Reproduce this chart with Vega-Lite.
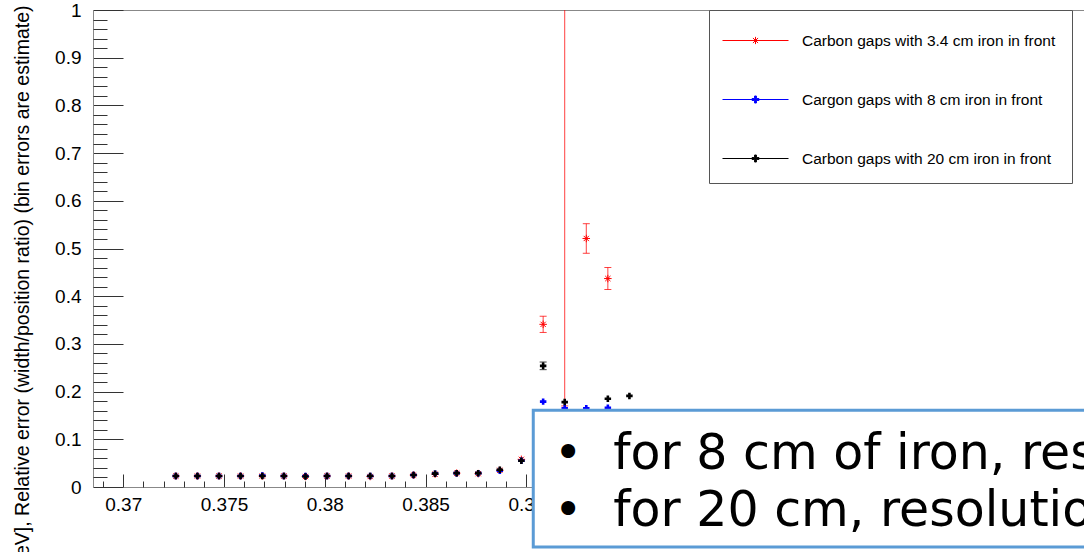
{
  "$schema": "https://vega.github.io/schema/vega-lite/v6.json",
  "autosize": "none",
  "padding": {"left": 93, "top": 10, "right": 0, "bottom": 65},
  "width": 991,
  "height": 477,
  "background": "white",
  "config": {
    "view": {"stroke": null},
    "font": "Liberation Sans",
    "legend": {
      "orient": "none",
      "legendX": 616,
      "legendY": 0,
      "strokeColor": "#555",
      "fillColor": "white",
      "padding": 16,
      "symbolSize": 784,
      "symbolStrokeWidth": 1,
      "symbolOpacity": 1,
      "labelOffset": 48,
      "labelFont": "Liberation Sans",
      "labelFontSize": 15.5,
      "labelColor": "#000",
      "labelLimit": 400,
      "rowPadding": 36,
      "title": null
    }
  },
  "data": {
    "values": [
      {"series": "Carbon gaps with 3.4 cm iron in front", "x": 0.37261, "v": 0.023},
      {"series": "Carbon gaps with 3.4 cm iron in front", "x": 0.37368, "v": 0.023},
      {"series": "Carbon gaps with 3.4 cm iron in front", "x": 0.37475, "v": 0.023},
      {"series": "Carbon gaps with 3.4 cm iron in front", "x": 0.37582, "v": 0.023},
      {"series": "Carbon gaps with 3.4 cm iron in front", "x": 0.3769, "v": 0.023},
      {"series": "Carbon gaps with 3.4 cm iron in front", "x": 0.37797, "v": 0.023},
      {"series": "Carbon gaps with 3.4 cm iron in front", "x": 0.37904, "v": 0.022},
      {"series": "Carbon gaps with 3.4 cm iron in front", "x": 0.38011, "v": 0.023},
      {"series": "Carbon gaps with 3.4 cm iron in front", "x": 0.38118, "v": 0.023},
      {"series": "Carbon gaps with 3.4 cm iron in front", "x": 0.38225, "v": 0.022},
      {"series": "Carbon gaps with 3.4 cm iron in front", "x": 0.38333, "v": 0.023},
      {"series": "Carbon gaps with 3.4 cm iron in front", "x": 0.3844, "v": 0.025},
      {"series": "Carbon gaps with 3.4 cm iron in front", "x": 0.38547, "v": 0.027},
      {"series": "Carbon gaps with 3.4 cm iron in front", "x": 0.38654, "v": 0.029},
      {"series": "Carbon gaps with 3.4 cm iron in front", "x": 0.38761, "v": 0.028},
      {"series": "Carbon gaps with 3.4 cm iron in front", "x": 0.38868, "v": 0.035},
      {"series": "Carbon gaps with 3.4 cm iron in front", "x": 0.38975, "v": 0.058},
      {"series": "Carbon gaps with 3.4 cm iron in front", "x": 0.39083, "v": 0.341, "lo": 0.324, "hi": 0.358},
      {"series": "Carbon gaps with 3.4 cm iron in front", "x": 0.3919, "v": 1.5, "lo": 0.17, "hi": 2.8},
      {"series": "Carbon gaps with 3.4 cm iron in front", "x": 0.39297, "v": 0.521, "lo": 0.49, "hi": 0.552},
      {"series": "Carbon gaps with 3.4 cm iron in front", "x": 0.39404, "v": 0.437, "lo": 0.414, "hi": 0.46},
      {"series": "Cargon gaps with 8 cm iron in front", "x": 0.37261, "v": 0.023},
      {"series": "Cargon gaps with 8 cm iron in front", "x": 0.37368, "v": 0.023},
      {"series": "Cargon gaps with 8 cm iron in front", "x": 0.37475, "v": 0.023},
      {"series": "Cargon gaps with 8 cm iron in front", "x": 0.37582, "v": 0.023},
      {"series": "Cargon gaps with 8 cm iron in front", "x": 0.3769, "v": 0.024},
      {"series": "Cargon gaps with 8 cm iron in front", "x": 0.37797, "v": 0.023},
      {"series": "Cargon gaps with 8 cm iron in front", "x": 0.37904, "v": 0.023},
      {"series": "Cargon gaps with 8 cm iron in front", "x": 0.38011, "v": 0.023},
      {"series": "Cargon gaps with 8 cm iron in front", "x": 0.38118, "v": 0.023},
      {"series": "Cargon gaps with 8 cm iron in front", "x": 0.38225, "v": 0.023},
      {"series": "Cargon gaps with 8 cm iron in front", "x": 0.38333, "v": 0.023},
      {"series": "Cargon gaps with 8 cm iron in front", "x": 0.3844, "v": 0.025},
      {"series": "Cargon gaps with 8 cm iron in front", "x": 0.38547, "v": 0.028},
      {"series": "Cargon gaps with 8 cm iron in front", "x": 0.38654, "v": 0.029},
      {"series": "Cargon gaps with 8 cm iron in front", "x": 0.38761, "v": 0.029},
      {"series": "Cargon gaps with 8 cm iron in front", "x": 0.38868, "v": 0.034},
      {"series": "Cargon gaps with 8 cm iron in front", "x": 0.38975, "v": 0.055},
      {"series": "Cargon gaps with 8 cm iron in front", "x": 0.39083, "v": 0.179},
      {"series": "Cargon gaps with 8 cm iron in front", "x": 0.3919, "v": 0.165},
      {"series": "Cargon gaps with 8 cm iron in front", "x": 0.39297, "v": 0.165},
      {"series": "Cargon gaps with 8 cm iron in front", "x": 0.39404, "v": 0.166},
      {"series": "Carbon gaps with 20 cm iron in front", "x": 0.37261, "v": 0.023},
      {"series": "Carbon gaps with 20 cm iron in front", "x": 0.37368, "v": 0.023},
      {"series": "Carbon gaps with 20 cm iron in front", "x": 0.37475, "v": 0.023},
      {"series": "Carbon gaps with 20 cm iron in front", "x": 0.37582, "v": 0.023},
      {"series": "Carbon gaps with 20 cm iron in front", "x": 0.3769, "v": 0.023},
      {"series": "Carbon gaps with 20 cm iron in front", "x": 0.37797, "v": 0.023},
      {"series": "Carbon gaps with 20 cm iron in front", "x": 0.37904, "v": 0.022},
      {"series": "Carbon gaps with 20 cm iron in front", "x": 0.38011, "v": 0.023},
      {"series": "Carbon gaps with 20 cm iron in front", "x": 0.38118, "v": 0.023},
      {"series": "Carbon gaps with 20 cm iron in front", "x": 0.38225, "v": 0.023},
      {"series": "Carbon gaps with 20 cm iron in front", "x": 0.38333, "v": 0.023},
      {"series": "Carbon gaps with 20 cm iron in front", "x": 0.3844, "v": 0.025},
      {"series": "Carbon gaps with 20 cm iron in front", "x": 0.38547, "v": 0.028},
      {"series": "Carbon gaps with 20 cm iron in front", "x": 0.38654, "v": 0.029},
      {"series": "Carbon gaps with 20 cm iron in front", "x": 0.38761, "v": 0.029},
      {"series": "Carbon gaps with 20 cm iron in front", "x": 0.38868, "v": 0.036},
      {"series": "Carbon gaps with 20 cm iron in front", "x": 0.38975, "v": 0.055},
      {"series": "Carbon gaps with 20 cm iron in front", "x": 0.39083, "v": 0.254, "lo": 0.246, "hi": 0.262},
      {"series": "Carbon gaps with 20 cm iron in front", "x": 0.3919, "v": 0.178},
      {"series": "Carbon gaps with 20 cm iron in front", "x": 0.39404, "v": 0.185},
      {"series": "Carbon gaps with 20 cm iron in front", "x": 0.39511, "v": 0.191}
    ]
  },
  "resolve": {"axis": {"x": "independent", "y": "independent"}},
  "layer": [
    {
      "transform": [{"filter": "isValid(datum.lo)"}],
      "mark": {"type": "rule", "strokeWidth": 1, "opacity": 0.75, "clip": true},
      "encoding": {
        "x": {
          "field": "x", "type": "quantitative",
          "scale": {"domain": [0.3685, 0.41766], "nice": false, "zero": false},
          "axis": {
            "orient": "bottom",
            "values": [0.37, 0.375, 0.38, 0.385, 0.39],
            "format": ".3~f",
            "tickSize": -13,
            "tickColor": "#333",
            "domainColor": "#888",
            "labelPadding": 21,
            "labelFontSize": 19,
            "labelColor": "#000",
            "labelFlush": false,
            "labelOverlap": false,
            "grid": false,
            "title": null
          }
        },
        "y": {
          "field": "lo", "type": "quantitative",
          "scale": {"domain": [0, 1], "nice": false},
          "axis": {
            "orient": "left",
            "values": [0, 0.1, 0.2, 0.3, 0.4, 0.5, 0.6, 0.7, 0.8, 0.9, 1],
            "format": ".1~f",
            "tickSize": -30,
            "tickColor": "#333",
            "domainColor": "#888",
            "labelPadding": 42,
            "labelFontSize": 19,
            "labelColor": "#000",
            "labelFlush": false,
            "labelOverlap": false,
            "grid": false,
            "title": "Resolution [GeV], Relative error (width/position ratio) (bin errors are estimate)",
            "titleFont": "Liberation Sans",
            "titleFontSize": 19.5,
            "titleFontWeight": "normal",
            "titleColor": "#000",
            "titleAngle": -90,
            "titleAlign": "right",
            "titleBaseline": "middle",
            "titleX": -71,
            "titleY": -5
          }
        },
        "y2": {"field": "hi"},
        "color": {
          "field": "series", "type": "nominal",
          "scale": {
            "domain": ["Carbon gaps with 3.4 cm iron in front", "Cargon gaps with 8 cm iron in front", "Carbon gaps with 20 cm iron in front"],
            "range": ["#ff0000", "#0000ff", "#000000"]
          },
          "legend": {
            "encode": {
              "symbols": {
                "update": {
                  "shape": {"signal": "datum.value === 'Carbon gaps with 3.4 cm iron in front' ? 'M-1.214,0H3.5M1.143,-0.26V0.26M0.883,0H1.403M0.96,-0.18L1.326,0.18M0.96,0.18L1.326,-0.18' : 'M-1.214,0H3.5M1.078,-0.25H1.208V-0.065H1.393V0.065H1.208V0.25H1.078V0.065H0.893V-0.065H1.078Z'"},
                  "stroke": {"signal": "scale('color', datum.value)"},
                  "fill": {"signal": "scale('color', datum.value)"},
                  "strokeWidth": {"value": 1},
                  "opacity": {"value": 1}
                }
              }
            }
          }
        }
      }
    },
    {
      "transform": [{"filter": "isValid(datum.lo)"}],
      "mark": {"type": "tick", "orient": "horizontal", "size": 7, "thickness": 1, "opacity": 0.75, "clip": true},
      "encoding": {
        "x": {"field": "x", "type": "quantitative", "axis": null},
        "y": {"field": "lo", "type": "quantitative", "axis": null},
        "color": {"field": "series", "type": "nominal", "legend": null}
      }
    },
    {
      "transform": [{"filter": "isValid(datum.lo)"}],
      "mark": {"type": "tick", "orient": "horizontal", "size": 7, "thickness": 1, "opacity": 0.75, "clip": true},
      "encoding": {
        "x": {"field": "x", "type": "quantitative", "axis": null},
        "y": {"field": "hi", "type": "quantitative", "axis": null},
        "color": {"field": "series", "type": "nominal", "legend": null}
      }
    },
    {
      "transform": [{"filter": "datum.series === 'Carbon gaps with 3.4 cm iron in front'"}],
      "mark": {
        "type": "point",
        "shape": "M-1,0H1M0,-1V1M-0.7,-0.7L0.7,0.7M-0.7,0.7L0.7,-0.7",
        "size": 56,
        "filled": false,
        "strokeWidth": 1,
        "opacity": 1,
        "clip": true
      },
      "encoding": {
        "x": {
          "field": "x", "type": "quantitative",
          "axis": {"orient": "top", "ticks": false, "labels": false, "domain": true, "domainColor": "#888", "grid": false, "title": null}
        },
        "y": {"field": "v", "type": "quantitative", "axis": null},
        "color": {"field": "series", "type": "nominal", "legend": null}
      }
    },
    {
      "transform": [{"filter": "datum.series !== 'Carbon gaps with 3.4 cm iron in front'"}],
      "mark": {"type": "point", "shape": "cross", "size": 42, "filled": true, "opacity": 1, "clip": true},
      "encoding": {
        "x": {
          "field": "x", "type": "quantitative",
          "axis": {
            "orient": "bottom",
            "values": [0.369, 0.371, 0.372, 0.373, 0.374, 0.376, 0.377, 0.378, 0.379, 0.381, 0.382, 0.383, 0.384, 0.386, 0.387, 0.388, 0.389, 0.391, 0.392, 0.393, 0.394, 0.396, 0.397, 0.398, 0.399, 0.401, 0.402, 0.403, 0.404, 0.406, 0.407, 0.408, 0.409, 0.411, 0.412, 0.413, 0.414, 0.416, 0.417],
            "tickSize": -6,
            "tickColor": "#333",
            "labels": false,
            "domain": false,
            "grid": false,
            "title": null
          }
        },
        "y": {
          "field": "v", "type": "quantitative",
          "axis": {
            "orient": "left",
            "values": [0.02, 0.04, 0.06, 0.08, 0.12, 0.14, 0.16, 0.18, 0.22, 0.24, 0.26, 0.28, 0.32, 0.34, 0.36, 0.38, 0.42, 0.44, 0.46, 0.48, 0.52, 0.54, 0.56, 0.58, 0.62, 0.64, 0.66, 0.68, 0.72, 0.74, 0.76, 0.78, 0.82, 0.84, 0.86, 0.88, 0.92, 0.94, 0.96, 0.98],
            "tickSize": -14,
            "tickColor": "#333",
            "labels": false,
            "domain": false,
            "grid": false,
            "title": null
          }
        },
        "color": {"field": "series", "type": "nominal", "legend": null}
      }
    },
    {
      "data": {"values": [{}]},
      "mark": {"type": "rect", "fill": "white", "stroke": "#5b9bd5", "strokeWidth": 3},
      "encoding": {
        "x": {"datum": 0.39034, "type": "quantitative", "axis": null},
        "x2": {"datum": 0.425},
        "y": {"datum": 0.1608, "type": "quantitative", "axis": null},
        "y2": {"datum": -0.126}
      }
    },
    {
      "data": {"values": [{}]},
      "mark": {"type": "text", "font": "DejaVu Sans", "fontSize": 48, "lineHeight": 57, "lineBreak": "\n", "align": "center", "baseline": "alphabetic", "color": "#000"},
      "encoding": {
        "x": {"datum": 0.39207, "type": "quantitative", "axis": null},
        "y": {"datum": 0.0371, "type": "quantitative", "axis": null},
        "text": {"value": "•\n•"}
      }
    },
    {
      "data": {"values": [{}]},
      "mark": {"type": "text", "font": "DejaVu Sans", "fontSize": 49, "lineHeight": 57, "lineBreak": "\n", "align": "left", "baseline": "alphabetic", "color": "#000"},
      "encoding": {
        "x": {"datum": 0.39431, "type": "quantitative", "axis": null},
        "y": {"datum": 0.0371, "type": "quantitative", "axis": null},
        "text": {"value": "for 8 cm of iron, resolution ≈ 2.3%\nfor 20 cm, resolution ≈ 2.3%"}
      }
    }
  ]
}
